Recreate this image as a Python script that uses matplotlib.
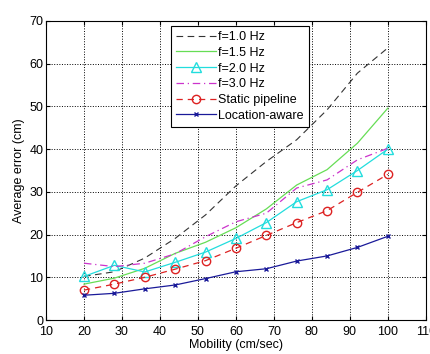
import numpy as np
import matplotlib.pyplot as plt

# mobility (cm/sec)
mobility = [20, 28, 36, 44, 52, 60, 68, 76, 84, 92, 100]

# average error (cm)
f10 = [10.2, 11.3, 14.5, 19.1, 24.6, 31.4, 37.1, 42.2, 49.2, 57.8, 63.7]
f15 = [8.4, 9.8, 12.1, 15.6, 18.2, 21.6, 26.0, 31.6, 35.2, 41.4, 49.6]
f20 = [10.2, 12.8, 11.25, 13.5, 15.9, 19.1, 22.8, 27.7, 30.5, 35.0, 40.0]
f30 = [13.3, 12.5, 13.3, 15.5, 19.5, 23.0, 25.0, 30.9, 32.8, 37.5, 40.2]
static_pipe = [7.0, 8.4, 10.0, 11.9, 13.9, 16.8, 19.8, 22.8, 25.6, 29.9, 34.1]
loc_aware = [5.8, 6.25, 7.3, 8.2, 9.7, 11.3, 12.0, 13.8, 15.0, 17.0, 19.6]

plt.rcParams['font.family'] = ['Liberation Sans', 'DejaVu Sans']
plt.rcParams['font.size'] = 9

fig = plt.figure(figsize=(4.31, 3.54), dpi=100)
ax = fig.add_axes([0.1067, 0.096, 0.8813, 0.8447])

ax.plot(mobility, f10, color='#333333', linestyle=(0, (6, 4)), linewidth=0.8, label='f=1.0 Hz')
ax.plot(mobility, f15, color='#66dd55', linestyle='-', linewidth=0.9, label='f=1.5 Hz')
ax.plot(mobility, f20, color='#22dddd', linestyle='-', linewidth=0.9, marker='^',
        markersize=6.5, markerfacecolor='none', markeredgecolor='#22dddd', label='f=2.0 Hz')
ax.plot(mobility, f30, color='#cc33cc', linestyle=(0, (6, 3, 1, 3)), linewidth=0.9, label='f=3.0 Hz')
ax.plot(mobility, static_pipe, color='#dd2222', linestyle=(0, (5, 4)), linewidth=0.9, marker='o',
        markersize=6, markerfacecolor='none', markeredgecolor='#dd2222', label='Static pipeline')
ax.plot(mobility, loc_aware, color='#1a1a99', linestyle='-', linewidth=0.9, marker='x',
        markersize=3.5, label='Location-aware')

ax.set_xlim(10, 110)
ax.set_ylim(0, 70)
ax.set_xticks(np.arange(10, 111, 10))
ax.set_yticks(np.arange(0, 71, 10))
ax.grid(True, linestyle=':', color='black', linewidth=0.7)
ax.tick_params(direction='in', top=True, right=True, length=3, pad=2)
ax.tick_params(axis='x', pad=4)
for s in ax.spines.values():
    s.set_linewidth(0.8)

ax.set_xlabel('Mobility (cm/sec)', labelpad=1)
ax.set_ylabel('Average error (cm)', labelpad=3)

leg = ax.legend(loc='upper left', bbox_to_anchor=(0.329, 0.983), fancybox=False,
                framealpha=1, edgecolor='black', borderpad=0.4, labelspacing=0.3,
                handlelength=3.2, handletextpad=0.2, borderaxespad=0)
leg.get_frame().set_linewidth(0.8)

plt.savefig('out.png', dpi=100)
